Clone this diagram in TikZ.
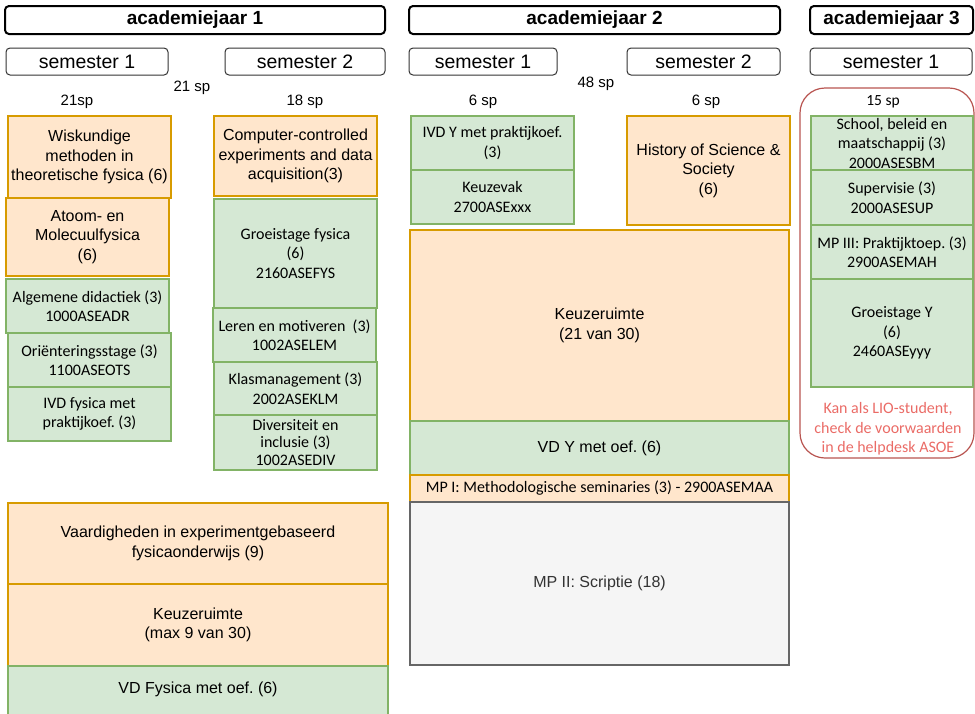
\documentclass[tikz,border=0pt]{standalone}
\usepackage{fontspec}
\setmainfont{Liberation Sans}
\newfontfamily\calibri{Carlito}
\usepackage{tikz}

\definecolor{oranjevul}{HTML}{FFE6CC}
\definecolor{oranjerand}{HTML}{D79B00}
\definecolor{groenvul}{HTML}{D5E8D4}
\definecolor{groenrand}{HTML}{82B366}
\definecolor{grijsvul}{HTML}{F5F5F5}
\definecolor{grijsrand}{HTML}{666666}
\definecolor{rood}{HTML}{B85450}
\definecolor{roodtekst}{HTML}{EA6B66}

\begin{document}
\frenchspacing
\begin{tikzpicture}[x=1pt,y=-1pt,
    maat/.style 2 args={minimum width=#1pt, minimum height=#2pt},
    vak/.style={rectangle, inner sep=0pt, align=center, line width=1.2pt,
        font=\fontsize{16}{19.5}\selectfont},
    cal/.style={font=\calibri\fontsize{16}{19.5}\selectfont},
    oranje/.style={vak, draw=oranjerand, fill=oranjevul},
    groen/.style={vak, draw=groenrand, fill=groenvul},
    grijs/.style={vak, draw=grijsrand, fill=grijsvul, text=black!80},
    jaar/.style={rectangle, draw, line width=2pt, rounded corners=4pt,
        inner sep=0pt, font=\bfseries\fontsize{19}{22}\selectfont},
    sem/.style={rectangle, draw=black!80, line width=1pt, rounded corners=4pt,
        inner sep=0pt, font=\fontsize{19.5}{22}\selectfont},
    sp/.style={inner sep=0pt, font=\fontsize{15}{18}\selectfont}]
\useasboundingbox (0,0) rectangle (975,713);

% jaren en semesters
\node[jaar, maat={380}{28}] (jaar1) at (195,20) {academiejaar 1};
\node[jaar, maat={371}{28}] (jaar2) at (594.5,20) {academiejaar 2};
\node[jaar, maat={163}{28}] (jaar3) at (891.5,20) {academiejaar 3};
\node[sem, maat={162}{27}] (j1s1) at (87,61.5) {semester 1};
\node[sem, maat={160}{27}] (j1s2) at (305,61.5) {semester 2};
\node[sem, maat={148}{27}] (j2s1) at (483,61.5) {semester 1};
\node[sem, maat={153}{27}] (j2s2) at (703.5,61.5) {semester 2};
\node[sem, maat={162}{27}] (j3s1) at (891,61.5) {semester 1};

\node[sp] (sp1) at (192,88) {21 sp};
\node[sp] (sp1a) at (77,102) {21sp};
\node[sp] (sp1b) at (305,102) {18 sp};
\node[sp] (sp2) at (596,84) {48 sp};
\node[sp] (sp2a) at (483,102) {6 sp};
\node[sp] (sp2b) at (706,102) {6 sp};

% jaar 1, semester 1
\node[oranje, maat={163}{82}] (wisk) at (89.5,157)
    {Wiskundige\\methoden in\\theoretische fysica (6)};
\node[oranje, maat={163}{78}] (atoom) at (87.5,237)
    {Atoom- en\\Molecuulfysica\\(6)};
\node[groen, cal, maat={163}{54}] (algdid) at (87.5,306)
    {Algemene didactiek (3)\\1000ASEADR};
\node[groen, cal, maat={163}{54}] (orient) at (89.5,360)
    {Oriënteringsstage (3)\\1100ASEOTS};
\node[groen, cal, maat={163}{54}] (ivdfys) at (89.5,414)
    {IVD fysica met\\praktijkoef. (3)};

% jaar 1, semester 2
\node[oranje, maat={163}{80}] (comp) at (295.5,156)
    {Computer-controlled\\experiments and data\\acquisition(3)};
\node[groen, cal, maat={163}{109}] (groeifys) at (295.5,253.5)
    {Groeistage fysica\\(6)\\2160ASEFYS};
\node[groen, cal, maat={163}{54}] (leren) at (294.5,335)
    {Leren en motiveren~~(3)\\1002ASELEM};
\node[groen, cal, maat={163}{53}] (klas) at (295.5,388.5)
    {Klasmanagement (3)\\2002ASEKLM};
\node[groen, cal, maat={163}{55}, font=\calibri\fontsize{16}{17.5}\selectfont] (divers) at (295.5,442.5)
    {Diversiteit en\\inclusie (3)\\1002ASEDIV};

% jaar 1, hele jaar
\node[oranje, maat={380}{81}] (vaard) at (198,543.5)
    {Vaardigheden in experimentgebaseerd\\fysicaonderwijs (9)};
\node[oranje, maat={380}{82}] (keuze1) at (198,625)
    {Keuzeruimte\\(max 9 van 30)};
\node[groen, maat={380}{56}, text depth=13pt] (vdfys) at (198,694)
    {VD Fysica met oef. (6)};

% jaar 2
\node[groen, cal, maat={163}{54}] (ivdy) at (492.5,143)
    {IVD Y met praktijkoef.\\(3)};
\node[groen, cal, maat={163}{54}] (keuzevak) at (492.5,197)
    {Keuzevak\\2700ASExxx};
\node[oranje, maat={163}{109}] (history) at (708.5,170.5)
    {History of Science \&\\Society\\(6)};
\node[oranje, maat={379}{191}] (keuze2) at (599.5,325.5)
    {Keuzeruimte\\(21 van 30)};
\node[groen, maat={379}{54}] (vdy) at (599.5,448)
    {VD Y met oef. (6)};
\node[oranje, cal, maat={379}{27}] (mp1) at (599.5,488.5)
    {MP I: Methodologische seminaries (3) - 2900ASEMAA};
\node[grijs, maat={379}{163}] (mp2) at (599.5,583.5)
    {MP II: Scriptie (18)};

% jaar 3
\node[rectangle, draw=rood, line width=1.2pt, rounded corners=25pt,
    maat={174}{370}] (lio) at (887,273) {};
\node[sp, cal, font=\calibri\fontsize{15.5}{18}\selectfont] (sp3) at (883,102) {15 sp};
\node[groen, cal, maat={162}{54}] (school) at (892,143)
    {School, beleid en\\maatschappij (3)\\2000ASESBM};
\node[groen, cal, maat={162}{55}] (superv) at (892,197.5)
    {Supervisie (3)\\2000ASESUP};
\node[groen, cal, maat={162}{54}] (mp3) at (892,252)
    {MP III: Praktijktoep. (3)\\2900ASEMAH};
\node[groen, cal, maat={162}{108}] (groeiy) at (892,333)
    {Groeistage Y\\(6)\\2460ASEyyy};
\node[cal, text=roodtekst, align=center, inner sep=0pt] (liotekst) at (888,429)
    {Kan als LIO-student,\\check de voorwaarden\\in de helpdesk ASOE};
\end{tikzpicture}
\end{document}
